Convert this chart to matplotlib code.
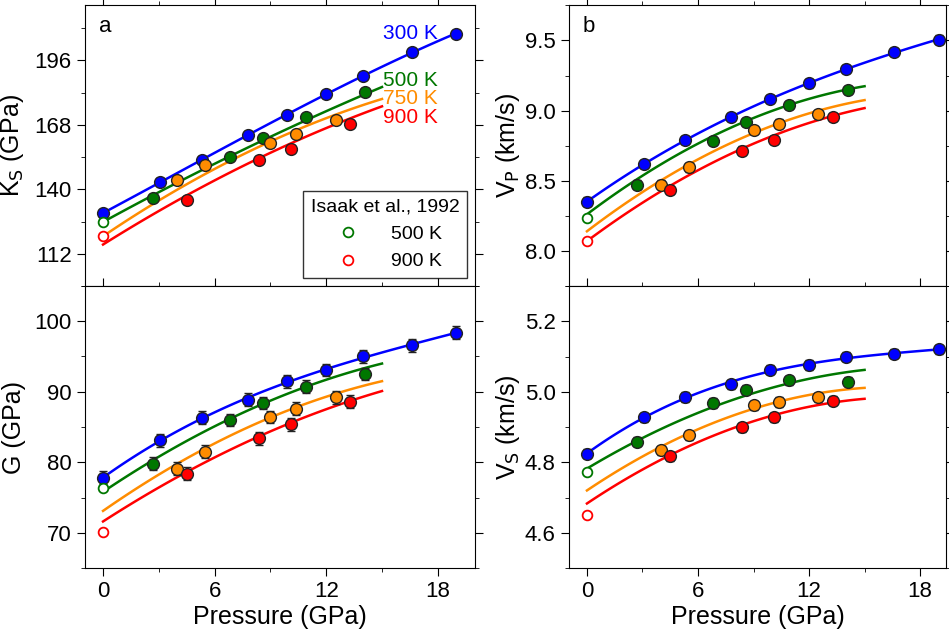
import numpy as np
import matplotlib.pyplot as plt

colors = {'300': '#0000ff', '500': '#007700', '750': '#ff8c00', '900': '#ff0000'}

# pressures of measured points (GPa)
p300 = [0, 3.08, 5.3, 7.8, 9.9, 12.0, 14.0, 16.6, 19.0]
p500 = [2.7, 6.8, 8.6, 10.9, 14.1]
p750 = [4.0, 5.5, 9.0, 10.4, 12.5]
p900 = [4.5, 8.4, 10.1, 13.3]

# Ks (GPa)
ks300 = [129.6, 143.2, 152.8, 163.6, 172.4, 181.2, 189.2, 199.6, 207.6]
ks500 = [136.4, 154.0, 162.4, 171.2, 182.4]
ks750 = [144.0, 150.4, 160.0, 164.0, 170.0]
ks900 = [135.2, 152.8, 157.6, 168.4]
# G (GPa)
g300 = [77.8, 83.1, 86.3, 88.9, 91.5, 93.1, 95.0, 96.6, 98.4]
g500 = [79.8, 86.0, 88.4, 90.7, 92.5]
g750 = [79.1, 81.5, 86.4, 87.6, 89.2]
g900 = [78.4, 83.4, 85.4, 88.6]
# Vp (km/s)
vp300 = [8.351, 8.618, 8.792, 8.954, 9.084, 9.194, 9.295, 9.416, 9.507]
vp500 = [8.473, 8.785, 8.921, 9.042, 9.146]
vp750 = [8.473, 8.596, 8.862, 8.908, 8.974]
vp900 = [8.433, 8.715, 8.789, 8.954]
# Vs (km/s)
vs300 = [4.824, 4.928, 4.985, 5.021, 5.062, 5.076, 5.099, 5.108, 5.120]
vs500 = [4.858, 4.968, 5.006, 5.033, 5.029]
vs750 = [4.834, 4.876, 4.961, 4.971, 4.984]
vs900 = [4.817, 4.899, 4.928, 4.975]

# Isaak et al. 1992 (P = 0): 500 K, 900 K
isaak_ks = [125.6, 119.6]
isaak_g = [76.4, 70.1]
isaak_vp = [8.235, 8.068]
isaak_vs = [4.772, 4.650]

# model curves for 500/750/900 K read at P = 0, 7.5, 15 GPa
knots_p = [0, 7.5, 15]
ks_fit = {'500': [125.8, 157.0, 184.4], '750': [119.6, 155.0, 179.2], '900': [116.0, 150.0, 176.0]}
g_fit = {'500': [75.8, 87.0, 94.0], '750': [73.1, 84.6, 91.5], '900': [71.6, 82.6, 90.1]}
vp_fit = {'500': [8.261, 8.862, 9.174], '750': [8.140, 8.752, 9.075], '900': [8.070, 8.675, 9.018]}
vs_fit = {'500': [4.782, 4.970, 5.062], '750': [4.720, 4.925, 5.011], '900': [4.683, 4.889, 4.980]}

# error bars
ks_err, g_err, vp_err, vs_err = 1.5, 0.9, 0.03, 0.013

fig = plt.figure(figsize=(9.49, 6.31), dpi=100)
plt.rcParams['font.family'] = 'Liberation Sans'
W, H = 949, 631
def ax_at(x0, y0, x1, y1):
    return fig.add_axes([x0 / W, 1 - y1 / H, (x1 - x0) / W, (y1 - y0) / H])

axes = [ax_at(85, 5, 475, 286), ax_at(569, 5, 946, 286),
        ax_at(85, 286, 475, 568), ax_at(569, 286, 946, 568)]

panels = [
    (ks300, ks500, ks750, ks900, isaak_ks, ks_fit, ks_err, (107.6, 220), [112, 140, 168, 196], r'K$_\mathrm{S}$ (GPa)', 'a'),
    (vp300, vp500, vp750, vp900, isaak_vp, vp_fit, vp_err, (7.89, 9.753), [8.0, 8.5, 9.0, 9.5], r'V$_\mathrm{P}$ (km/s)', 'b'),
    (g300, g500, g750, g900, isaak_g, g_fit, g_err, (67.9, 101.9), [70, 80, 90, 100], 'G (GPa)', None),
    (vs300, vs500, vs750, vs900, isaak_vs, vs_fit, vs_err, (4.549, 5.217), [4.6, 4.8, 5.0, 5.2], r'V$_\mathrm{S}$ (km/s)', None),
]

pp = np.linspace(0, 15, 100)
p3 = np.linspace(0, 19, 120)
for i, (ax, (d300, d500, d750, d900, isaak, fits, err, ylim, yt, ylab, lab)) in enumerate(zip(axes, panels)):
    c3 = np.polyfit(p300, d300, 3)
    ax.plot(p3, np.polyval(c3, p3), color=colors['300'], lw=1.8, zorder=2)
    for k in ['500', '750', '900']:
        c = np.polyfit(knots_p, fits[k], 2)
        ax.plot(pp, np.polyval(c, pp), color=colors[k], lw=1.8, zorder=2)
    for k, px, d in [('300', p300, d300), ('500', p500, d500), ('750', p750, d750), ('900', p900, d900)]:
        ax.errorbar(px, d, yerr=err, fmt='o', ms=8.5, mfc=colors[k], mec='#222222', mew=1.0,
                    ecolor='#222222', elinewidth=1, capsize=3, zorder=3)
    ax.plot([0], [isaak[0]], 'o', ms=7, mfc='white', mec=colors['500'], mew=1.3, zorder=4)
    ax.plot([0], [isaak[1]], 'o', ms=7, mfc='white', mec=colors['900'], mew=1.3, zorder=4)
    if i in (0, 2):
        ax.set_xlim(-0.97, 20.0)
    else:
        ax.set_xlim(-0.97, 19.4)
    ax.set_ylim(*ylim)
    ax.set_yticks(yt)
    ax.set_yticks([(a + b) / 2 for a, b in zip(yt[:-1], yt[1:])] + [yt[0] - (yt[1] - yt[0]) / 2, yt[-1] + (yt[1] - yt[0]) / 2], minor=True)
    ax.set_xticks([0, 6, 12, 18])
    ax.set_xticks([3, 9, 15], minor=True)
    ax.tick_params(which='both', direction='out', right=True, top=True, labelsize=16)
    ax.tick_params(which='major', length=6)
    ax.tick_params(which='minor', length=3)
    if i in (2, 3):
        ax.set_xlabel('Pressure (GPa)', fontsize=18, labelpad=2)
    else:
        ax.tick_params(labelbottom=False)
    ax.set_ylabel(ylab, fontsize=18, labelpad=2)
    if i in (0, 2):
        ax.yaxis.set_label_coords(-0.15, 0.5)
    else:
        ax.yaxis.set_label_coords(-0.125, 0.5)
    if i in (1, 3):
        ax.yaxis.set_major_formatter(plt.FormatStrFormatter('%.1f'))
    if lab:
        ax.text(0.035, 0.96, lab, transform=ax.transAxes, fontsize=16, va='top')

ax = axes[0]
for k, y in [('300', 207.6), ('500', 187.4), ('750', 179.2), ('900', 171.0)]:
    ax.text(18.0, y, k + ' K', color=colors[k], fontsize=15, ha='right', va='center')
h1, = ax.plot([], [], 'o', ms=7, mfc='white', mec=colors['500'], mew=1.3)
h2, = ax.plot([], [], 'o', ms=7, mfc='white', mec=colors['900'], mew=1.3)
leg = ax.legend([h1, h2], ['500 K', '900 K'], title='Isaak et al., 1992', loc='lower right',
                fontsize=14, title_fontsize=14, fancybox=False, edgecolor='black',
                borderaxespad=0.4, handletextpad=1.2)
leg.get_frame().set_linewidth(1)

fig.savefig('out.png', dpi=100)
